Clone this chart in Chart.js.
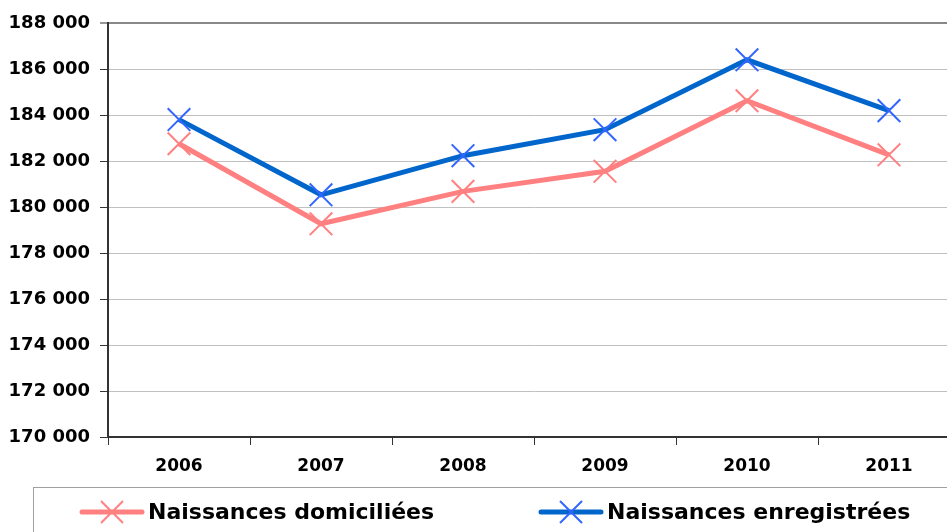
<!DOCTYPE html>
<html><head><meta charset="utf-8">
<script src="https://cdn.jsdelivr.net/npm/chart.js@4"></script>
<style>html,body{margin:0;padding:0;overflow:hidden;background:#fff;width:947px;height:532px}
#wrap{position:absolute;left:0;top:0;width:980px;height:532px}</style>
</head><body>
<div id="wrap"><canvas id="c" width="980" height="532"></canvas></div>
<script>
const categories = ['2006','2007','2008','2009','2010','2011'];
const domiciliees = [182750, 179270, 180680, 181550, 184620, 182270];
const enregistrees = [183800, 180530, 182230, 183360, 186400, 184190];
const seriesNames = ['Naissances domiciliées', 'Naissances enregistrées'];
const yMin = 170000, yMax = 188000, yStep = 2000;

const FONT = '"DejaVu Sans", Arial, sans-serif';
const pink = '#FF8080', blue = '#0066CC', blueMark = '#3366FF';

const legendPlugin = {
  id: 'customLegend',
  afterDraw(chart) {
    const ctx = chart.ctx;
    ctx.save();
    ctx.strokeStyle = '#a0a0a0'; ctx.lineWidth = 1;
    ctx.strokeRect(33.5, 487.5, 1000, 100);
    const items = [
      {x: 82, color: pink, mark: pink, text: seriesNames[0]},
      {x: 541, color: blue, mark: blueMark, text: seriesNames[1]}
    ];
    const y = 512;
    items.forEach(it => {
      ctx.strokeStyle = it.color; ctx.lineWidth = 5; ctx.lineCap = 'round';
      ctx.beginPath(); ctx.moveTo(it.x, y); ctx.lineTo(it.x + 60, y); ctx.stroke();
      ctx.strokeStyle = it.mark; ctx.lineWidth = 2; ctx.lineCap = 'butt';
      const cx = it.x + 30, r = 11;
      ctx.beginPath(); ctx.moveTo(cx - r, y - r); ctx.lineTo(cx + r, y + r);
      ctx.moveTo(cx + r, y - r); ctx.lineTo(cx - r, y + r); ctx.stroke();
      ctx.fillStyle = '#000'; ctx.font = 'bold 22px ' + FONT;
      ctx.textBaseline = 'middle'; ctx.textAlign = 'left';
      ctx.fillText(it.text, it.x + 66, y + 1);
    });
    ctx.restore();
  }
};

new Chart(document.getElementById('c'), {
  type: 'line',
  data: {
    labels: categories,
    datasets: [
      {label: seriesNames[0], data: domiciliees, borderColor: pink, backgroundColor: pink,
       borderWidth: 5, pointStyle: 'crossRot', pointRadius: 16, pointBorderColor: pink,
       pointBorderWidth: 2, tension: 0},
      {label: seriesNames[1], data: enregistrees, borderColor: blue, backgroundColor: blue,
       borderWidth: 5, pointStyle: 'crossRot', pointRadius: 16, pointBorderColor: blueMark,
       pointBorderWidth: 2, tension: 0}
    ]
  },
  options: {
    responsive: false, animation: false,
    layout: {padding: {left: 0, top: 23, right: 20, bottom: 45}},
    plugins: {legend: {display: false}, tooltip: {enabled: false}},
    scales: {
      x: {
        offset: true,
        grid: {offset: true, drawOnChartArea: false, drawTicks: true, tickLength: 8, tickColor: '#333', tickWidth: 1},
        border: {color: '#333', width: 2},
        ticks: {color: '#000', font: {family: FONT, size: 17, weight: 'bold'}, padding: 11, maxRotation: 0},
        afterFit(s) { s.height = 50; }
      },
      y: {
        min: yMin, max: yMax,
        grid: {
          color: c => (c.tick && c.tick.value === yMax) ? '#888' : '#c0c0c0',
          lineWidth: c => (c.tick && c.tick.value === yMax) ? 2 : 1,
          tickLength: 8, tickColor: '#333', tickWidth: 1
        },
        border: {color: '#333', width: 2},
        ticks: {stepSize: yStep, color: '#000', padding: 10,
          font: {family: FONT, size: 18, weight: 'bold'},
          callback: v => String(v).replace(/\B(?=(\d{3})+(?!\d))/g, ' ')},
        afterFit(s) { s.width = 108; }
      }
    }
  },
  plugins: [legendPlugin]
});
</script>
</body></html>
